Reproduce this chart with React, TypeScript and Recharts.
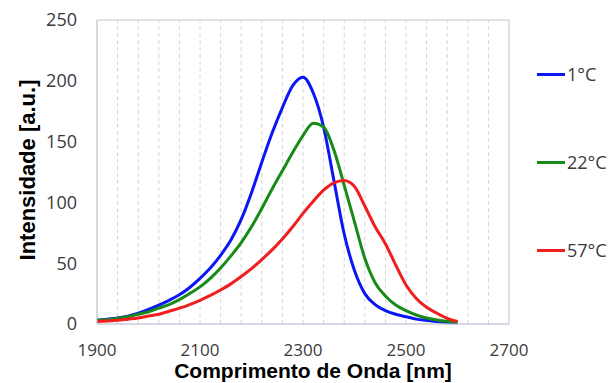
import React from "react";
import {
  LineChart,
  Line,
  XAxis,
  YAxis,
  ReferenceLine,
  Legend,
  Label,
} from "recharts";

const wavelengths = [
  1900, 1920, 1940, 1960, 1980, 2000, 2020, 2040, 2060, 2080, 2100, 2120,
  2140, 2160, 2180, 2200, 2220, 2240, 2260, 2280, 2300, 2320, 2340, 2360,
  2380, 2400, 2420, 2440, 2460, 2480, 2500, 2520, 2540, 2560, 2580, 2600,
];

const temp1 = [
  3, 4, 5, 6.5, 9, 12, 15.5, 19.5, 24, 30, 37.5, 46, 56.5, 69, 86, 108, 133,
  157, 178, 196, 203, 190, 162, 118, 74, 44, 25, 16, 11, 8, 6, 4, 3, 2, 1.5, 1,
];

const temp22 = [
  3, 3.5, 4.5, 6, 8, 10, 13, 16, 20, 25, 30.5, 37.5, 46, 56, 67, 80, 95,
  111, 126, 141, 155, 165, 162, 143, 114, 84, 54, 34, 23, 15.6, 11, 7.4, 5,
  3.3, 2.2, 1.5,
];

const temp57 = [
  2, 2.5, 3, 4, 5, 6.5, 8, 10.5, 13, 16, 19.5, 23.5, 28, 33, 39, 45.5, 53, 61,
  70, 80, 91, 101, 110, 116, 118, 113, 97, 80, 66, 48.5, 32, 21, 13.7, 8.8,
  4.7, 2,
];

const xTicks = [1900, 2100, 2300, 2500, 2700];
const yTicks = [0, 50, 100, 150, 200, 250];
const gridX = [
  1940, 1980, 2020, 2060, 2100, 2140, 2180, 2220, 2260, 2300, 2340, 2380,
  2420, 2460, 2500, 2540, 2580, 2620, 2660,
];

const seriesNames = ["1°C", "22°C", "57°C"];
const seriesColors = ["#0b16f5", "#178a17", "#f01e1e"];

const data = wavelengths.map((w, i) => ({
  w,
  t1: temp1[i],
  t22: temp22[i],
  t57: temp57[i],
}));

const tickStyle = { fontFamily: "Open Sans", fontSize: 18, fill: "#3a3a3a" };
const xTickStyle = { fontFamily: "Open Sans", fontSize: 17, fill: "#3a3a3a" };

const renderLegend = (props: any) => {
  const { payload } = props;
  return (
    <div>
      {payload.map((entry: any) => (
        <div
          key={entry.value}
          style={{
            display: "flex",
            alignItems: "center",
            height: 24,
            marginBottom: 64,
            fontFamily: "Open Sans",
            fontSize: 18,
            color: "#3a3a3a",
          }}
        >
          <span
            style={{
              display: "inline-block",
              width: 28,
              height: 3,
              background: entry.color,
              marginRight: 2,
            }}
          />
          {entry.value}
        </div>
      ))}
    </div>
  );
};

const YTitle = () => (
  <text
    x={35}
    y={170}
    transform="rotate(-90 35 170)"
    textAnchor="middle"
    fontFamily="Liberation Sans"
    fontWeight="bold"
    fontSize={22}
    fill="#000"
  >
    Intensidade [a.u.]
  </text>
);

export default function App() {
  return (
    <div style={{ position: "absolute", left: 0, top: 0, background: "#fff" }}>
      <LineChart
        width={611}
        height={383}
        data={data}
        margin={{ top: 20, right: 28, bottom: 0, left: 0 }}
      >
        {gridX.map((g) => (
          <ReferenceLine
            key={g}
            x={g}
            stroke="#d6d6d6"
            strokeDasharray="4 3"
          />
        ))}
        <ReferenceLine y={250} stroke="#c4c4d2" />
        <ReferenceLine x={2700} stroke="#c4c4d2" />
        <XAxis
          dataKey="w"
          type="number"
          domain={[1900, 2700]}
          ticks={xTicks}
          height={59}
          tickLine={false}
          tickSize={0}
          tickMargin={20}
          axisLine={{ stroke: "#b0b0c4" }}
          tick={xTickStyle}
        >
          <Label
            value="Comprimento de Onda [nm]"
            position="insideBottom"
            offset={5}
            dx={10}
            style={{
              fontFamily: "Liberation Sans",
              fontWeight: "bold",
              fontSize: 21,
              fill: "#000",
            }}
          />
        </XAxis>
        <YAxis
          type="number"
          domain={[0, 250]}
          ticks={yTicks}
          width={97}
          tickLine={false}
          tickSize={0}
          tickMargin={20}
          axisLine={{ stroke: "#b0b0c4" }}
          tick={tickStyle}
        >
          <Label content={<YTitle />} />
        </YAxis>
        <Legend
          layout="vertical"
          align="right"
          verticalAlign="top"
          content={renderLegend}
          wrapperStyle={{ left: 537, top: 62, width: 74 }}
        />
        <Line
          type="monotone"
          dataKey="t1"
          name={seriesNames[0]}
          stroke={seriesColors[0]}
          strokeWidth={3}
          dot={false}
          isAnimationActive={false}
        />
        <Line
          type="monotone"
          dataKey="t22"
          name={seriesNames[1]}
          stroke={seriesColors[1]}
          strokeWidth={3}
          dot={false}
          isAnimationActive={false}
        />
        <Line
          type="monotone"
          dataKey="t57"
          name={seriesNames[2]}
          stroke={seriesColors[2]}
          strokeWidth={3}
          dot={false}
          isAnimationActive={false}
        />
      </LineChart>
    </div>
  );
}
